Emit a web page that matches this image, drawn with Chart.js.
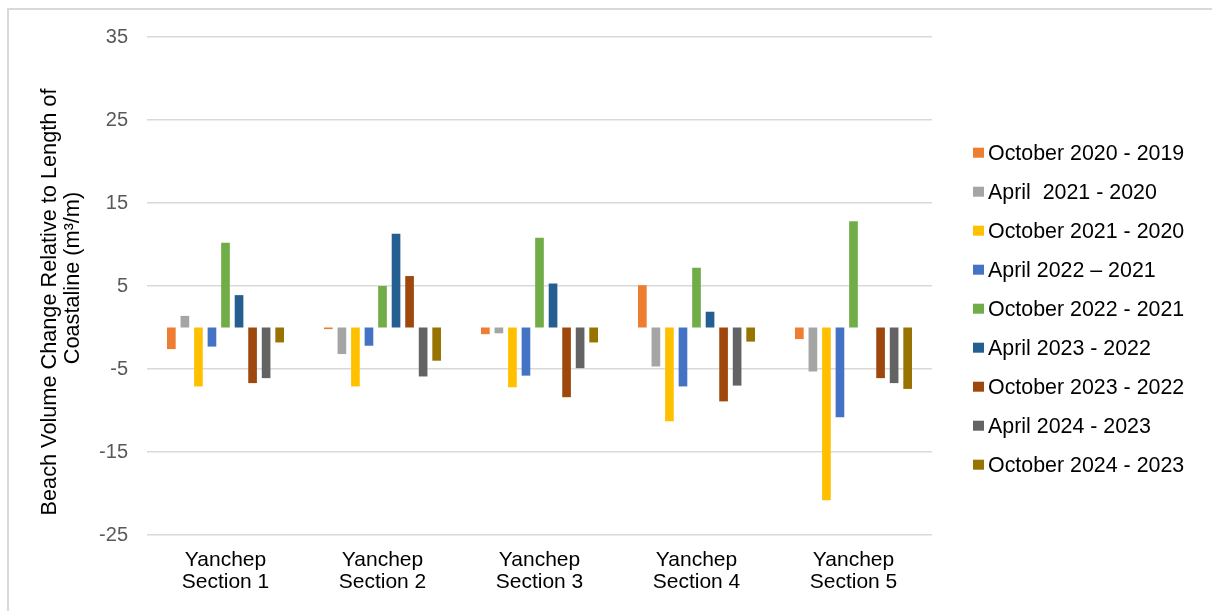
<!DOCTYPE html>
<html>
<head>
<meta charset="utf-8">
<title>Beach Volume Change – Yanchep</title>
<script src="https://cdn.jsdelivr.net/npm/chart.js@4/dist/chart.umd.min.js"></script>
<style>
  html, body { margin: 0; padding: 0; background: #fff; overflow: hidden; }
  #wrap { position: relative; width: 1212px; height: 611px; }
  #frame { position: absolute; left: 7px; top: 8px; width: 1300px; height: 700px;
           border-left: 2px solid #d9d9d9; border-top: 2px solid #d9d9d9; box-sizing: border-box; }
  #chart { position: absolute; left: 0; top: 0; }
</style>
</head>
<body>
<div id="wrap">
  <div id="frame"></div>
  <canvas id="chart" width="1212" height="611"></canvas>
</div>
<script>
// Survey sections along the Yanchep coast
const categories = [
  ['Yanchep', 'Section 1'],
  ['Yanchep', 'Section 2'],
  ['Yanchep', 'Section 3'],
  ['Yanchep', 'Section 4'],
  ['Yanchep', 'Section 5']
];

// Comparison periods (legend order)
const seriesNames = [
  'October 2020 - 2019',
  'April  2021 - 2020',
  'October 2021 - 2020',
  'April 2022 \u2013 2021',
  'October 2022 - 2021',
  'April 2023 - 2022',
  'October 2023 - 2022',
  'April 2024 - 2023',
  'October 2024 - 2023'
];

// Beach volume change per metre of coastline (m³/m), sections 1–5
const oct2020_2019 = [-2.6, -0.2, -0.8, 5.1, -1.4];
const apr2021_2020 = [1.4, -3.2, -0.7, -4.7, -5.3];
const oct2021_2020 = [-7.1, -7.1, -7.2, -11.3, -20.8];
const apr2022_2021 = [-2.3, -2.2, -5.8, -7.1, -10.8];
const oct2022_2021 = [10.2, 5.0, 10.8, 7.2, 12.8];
const apr2023_2022 = [3.9, 11.3, 5.3, 1.9, null];
const oct2023_2022 = [-6.7, 6.2, -8.4, -8.9, -6.1];
const apr2024_2023 = [-6.1, -5.9, -4.9, -7.0, -6.7];
const oct2024_2023 = [-1.8, -4.0, -1.8, -1.7, -7.4];

// Value axis range and step
const yMin = -25;
const yMax = 35;
const yStep = 10;

const seriesValues = [
  oct2020_2019, apr2021_2020, oct2021_2020, apr2022_2021, oct2022_2021,
  apr2023_2022, oct2023_2022, apr2024_2023, oct2024_2023
];
const seriesColors = [
  '#ED7D31', '#A5A5A5', '#FFC000', '#4472C4', '#70AD47',
  '#255E91', '#9E480E', '#636363', '#997300'
];

const FONT = '"Liberation Sans", Arial, Helvetica, sans-serif';

// Rotated two-line axis title
const axisTitlePlugin = {
  id: 'axisTitle',
  afterDraw(chart) {
    const ctx = chart.ctx;
    ctx.save();
    ctx.fillStyle = '#000';
    ctx.font = '21.7px ' + FONT;
    ctx.textAlign = 'center';
    ctx.textBaseline = 'middle';
    const lines = [
      { text: 'Beach Volume Change Relative to Length of', x: 50, y: 302 },
      { text: 'Coastaline (m\u00B3/m)', x: 73, y: 278 }
    ];
    lines.forEach(l => {
      ctx.save();
      ctx.translate(l.x, l.y);
      ctx.rotate(-Math.PI / 2);
      ctx.fillText(l.text, 0, 0);
      ctx.restore();
    });
    ctx.restore();
  }
};

// Legend column on the right side
const sideLegendPlugin = {
  id: 'sideLegend',
  afterDraw(chart) {
    const ctx = chart.ctx;
    const left = chart.chartArea.right + 41;
    const firstY = 152.7;
    const step = 39.0;
    ctx.save();
    ctx.font = '21.4px ' + FONT;
    ctx.textAlign = 'left';
    ctx.textBaseline = 'alphabetic';
    chart.data.datasets.forEach((ds, i) => {
      const cy = firstY + i * step;
      ctx.fillStyle = ds.backgroundColor;
      ctx.fillRect(left, cy - 5, 11, 10);
      ctx.fillStyle = '#000';
      ctx.fillText(ds.label, left + 15, cy + 7.5);
    });
    ctx.restore();
  }
};

const datasets = seriesNames.map((name, i) => ({
  label: name,
  data: seriesValues[i],
  backgroundColor: seriesColors[i],
  borderWidth: 0,
  categoryPercentage: 0.776,
  barPercentage: 0.64
}));

new Chart(document.getElementById('chart'), {
  type: 'bar',
  data: { labels: categories, datasets: datasets },
  options: {
    responsive: false,
    animation: false,
    devicePixelRatio: 1,
    layout: { padding: { left: 38, top: 37, right: 280, bottom: 0 } },
    plugins: {
      legend: { display: false },
      tooltip: { enabled: false }
    },
    scales: {
      x: {
        grid: { display: false, drawTicks: false },
        border: { display: false },
        ticks: {
          color: '#000',
          padding: 14,
          font: { family: FONT, size: 21, lineHeight: 1.05 },
          maxRotation: 0,
          autoSkip: false
        },
        afterFit(scale) { scale.height = 76; }
      },
      y: {
        min: yMin,
        max: yMax,
        grid: { color: '#d9d9d9', lineWidth: 1.5, drawTicks: false },
        border: { display: false },
        ticks: {
          stepSize: yStep,
          color: '#595959',
          padding: 19,
          font: { family: FONT, size: 20 }
        },
        afterFit(scale) { scale.width = 109; }
      }
    }
  },
  plugins: [axisTitlePlugin, sideLegendPlugin]
});
</script>
</body>
</html>
